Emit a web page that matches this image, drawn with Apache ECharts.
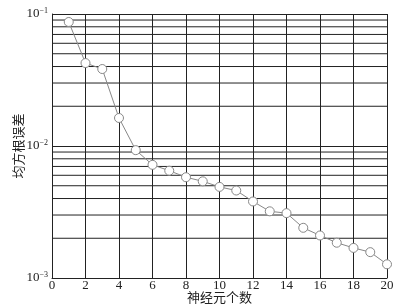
<!DOCTYPE html>
<html><head><meta charset="utf-8">
<script src="https://cdn.jsdelivr.net/npm/echarts@6/dist/echarts.min.js"></script>
<style>html,body{margin:0;padding:0;background:#fff}#c{width:404px;height:308px}</style>
</head><body><div id="c"></div>
<script>
var neurons = [1,2,3,4,5,6,7,8,9,10,11,12,13,14,15,16,17,18,19,20];
var rmse = [0.087,0.0425,0.0383,0.0163,0.0093,0.0072,0.0065,0.0058,0.0054,0.0049,0.0046,0.0038,0.0032,0.0031,0.0024,0.0021,0.00185,0.00169,0.00157,0.00127];
var xTicks = [0,2,4,6,8,10,12,14,16,18,20];
var yDecades = [0.001,0.01,0.1];
var minorMultipliers = [2,3,4,5,6,7,8,9];
var xName = '神经元个数';
var yName = '均方根误差';

var xMin = xTicks[0], xMax = xTicks[xTicks.length-1];
var minorSeries = [];
yDecades.slice(0,2).forEach(function(d){
  minorMultipliers.forEach(function(m){
    var v = parseFloat((d*m).toPrecision(6));
    minorSeries.push({type:'line',data:[[xMin,v],[xMax,v]],symbol:'none',silent:true,
      lineStyle:{color:'#222',width:1},z:1,animation:false});
  });
});

var chart = echarts.init(document.getElementById('c'));
var serif = '"Liberation Serif","DejaVu Serif",serif';
chart.setOption({
  animation:false,
  backgroundColor:'#fff',
  grid:{left:52,right:17,top:14,bottom:30,containLabel:false,outerBoundsMode:'none'},
  xAxis:{type:'value',min:xMin,max:xMax,interval:2,
    axisLine:{show:true,lineStyle:{color:'#222',width:1}},
    axisTick:{show:false},
    axisLabel:{color:'#222',fontFamily:serif,fontSize:13,margin:1},
    splitLine:{show:true,lineStyle:{color:'#222',width:1}},
    name:xName,nameLocation:'middle',nameGap:13,nameMoveOverlap:false,
    nameTextStyle:{color:'#222',fontFamily:'"Noto Sans CJK SC"',fontSize:13}
  },
  yAxis:{type:'log',logBase:10,min:yDecades[0],max:yDecades[2],
    axisLine:{show:true,lineStyle:{color:'#222',width:1}},
    axisTick:{show:false},
    axisLabel:{color:'#222',fontFamily:serif,fontSize:13,margin:4,
      formatter:function(v){return '10{s|\u2212'+Math.round(-Math.log10(v))+'}';},
      rich:{s:{fontFamily:serif,fontSize:8,verticalAlign:'top',padding:[0,0,6,0],color:'#222'}}},
    splitLine:{show:true,lineStyle:{color:'#222',width:1}},
    name:yName,nameLocation:'middle',nameGap:27,nameRotate:90,nameMoveOverlap:false,
    nameTextStyle:{color:'#222',fontFamily:'"Noto Sans CJK SC"',fontSize:13}
  },
  series:minorSeries.concat([{
    type:'line',
    data:neurons.map(function(n,i){return [n,rmse[i]];}),
    symbol:'circle',symbolSize:9,showAllSymbol:true,
    itemStyle:{color:'#fff',borderColor:'#888',borderWidth:1},
    lineStyle:{color:'#888',width:1},
    z:3
  }])
});
</script></body></html>
